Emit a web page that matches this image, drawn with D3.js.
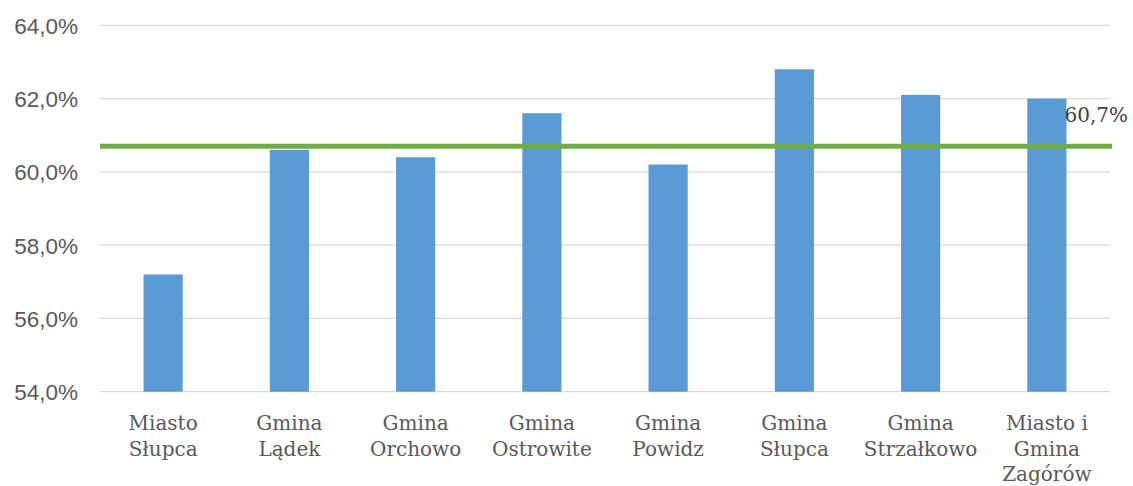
<!DOCTYPE html>
<html>
<head>
<meta charset="utf-8">
<script src="https://cdn.jsdelivr.net/npm/d3@7"></script>
<style>
  html, body { margin: 0; padding: 0; background: #fff; }
  svg { display: block; }
</style>
</head>
<body>
<svg id="chart" width="1133" height="486"></svg>
<script>
const categories = ["Miasto Słupca", "Gmina Lądek", "Gmina Orchowo", "Gmina Ostrowite", "Gmina Powidz", "Gmina Słupca", "Gmina Strzałkowo", "Miasto i Gmina Zagórów"];
const categoryLines = [["Miasto", "Słupca"], ["Gmina", "Lądek"], ["Gmina", "Orchowo"], ["Gmina", "Ostrowite"], ["Gmina", "Powidz"], ["Gmina", "Słupca"], ["Gmina", "Strzałkowo"], ["Miasto i", "Gmina", "Zagórów"]];
const values = [57.2, 60.6, 60.4, 61.6, 60.2, 62.8, 62.1, 62.0];
const average = 60.7;
const averageLabel = "60,7%";
const yTicks = [54, 56, 58, 60, 62, 64];

const svg = d3.select("#chart");
const plotLeft = 100, plotRight = 1110, plotTop = 25.3, plotBottom = 391.7;

const x = d3.scaleBand().domain(categories).range([plotLeft, plotRight]).paddingInner(0.69).paddingOuter(0.345);
const y = d3.scaleLinear().domain([54, 64]).range([plotBottom, plotTop]);
const fmt = v => v.toFixed(1).replace(".", ",") + "%";

// gridlines
svg.append("g").selectAll("line").data(yTicks).join("line")
  .attr("x1", plotLeft).attr("x2", plotRight)
  .attr("y1", d => y(d)).attr("y2", d => y(d))
  .attr("stroke", "#D9D9D9").attr("stroke-width", 1.3);

// y-axis labels
const yAxis = d3.axisLeft(y).tickValues(yTicks).tickFormat(fmt).tickSize(0).tickPadding(22);
const yg = svg.append("g").attr("transform", `translate(${plotLeft},0)`).call(yAxis);
yg.select(".domain").remove();
yg.selectAll("text")
  .attr("font-family", "'Liberation Sans', Arial, sans-serif")
  .attr("font-size", 22.5).attr("fill", "#595959").attr("dy", "0.36em");

// bars
svg.append("g").selectAll("rect").data(values).join("rect")
  .attr("x", (d, i) => x(categories[i]))
  .attr("width", x.bandwidth())
  .attr("y", d => y(d))
  .attr("height", d => y(54) - y(d))
  .attr("fill", "#5B9BD5");

// average line
svg.append("line")
  .attr("x1", plotLeft).attr("x2", plotRight + 2)
  .attr("y1", y(average)).attr("y2", y(average))
  .attr("stroke", "#70AD47").attr("stroke-width", 5);

svg.append("text")
  .attr("x", x(categories[7]) + x.bandwidth() - 2)
  .attr("y", 122)
  .attr("font-family", "'DejaVu Serif', Georgia, serif")
  .attr("font-size", 20)
  .attr("fill", "#404040")
  .text(averageLabel);

// category labels
const cg = svg.append("g");
categories.forEach((c, i) => {
  const t = cg.append("text")
    .attr("x", x(c) + x.bandwidth() / 2)
    .attr("y", 430)
    .attr("text-anchor", "middle")
    .attr("font-family", "'DejaVu Serif', Georgia, serif")
    .attr("font-size", 20)
    .attr("fill", "#595959");
  categoryLines[i].forEach((ln, j) => {
    t.append("tspan").attr("x", x(c) + x.bandwidth() / 2).attr("y", 430 + j * 25.5).text(ln);
  });
});
</script>
</body>
</html>
